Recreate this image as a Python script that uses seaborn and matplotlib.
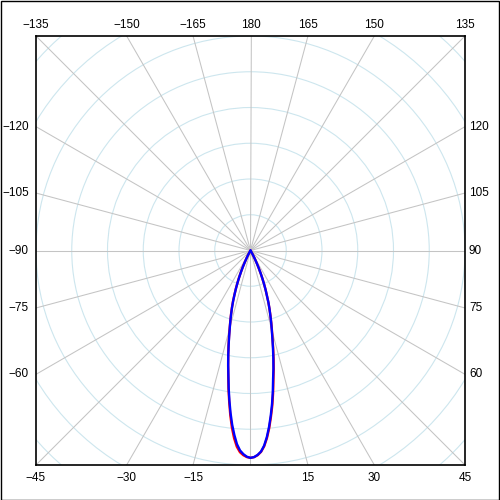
import numpy as np
import pandas as pd
import seaborn as sns
import matplotlib.pyplot as plt
from matplotlib.patches import Circle, Rectangle

# gamma angles (deg) and luminous intensity (cd)
gamma = list(range(0, 33))
red_right = [580, 578, 573, 564, 549, 527, 500, 469, 438, 404, 369, 340, 311, 282,
             255, 232, 211, 191, 172, 154, 134, 118, 101, 85, 70, 55, 42, 31, 21,
             13, 7, 3, 0]
red_left = [580, 578, 573, 565, 550, 527, 498, 464, 428, 393, 358, 328, 300, 273,
            248, 225, 205, 186, 168, 150, 131, 114, 97, 81, 65, 51, 37, 26, 17,
            10, 5, 2, 0]
blue_right = [580, 578, 572, 563, 547, 524, 496, 465, 433, 399, 364, 336, 307, 279,
              253, 230, 210, 190, 172, 154, 134, 118, 101, 85, 70, 55, 42, 31, 21,
              13, 7, 3, 0]
blue_left = [580, 577, 570, 560, 543, 518, 490, 458, 424, 390, 356, 327, 299, 272,
             247, 224, 204, 185, 167, 149, 130, 113, 96, 80, 64, 50, 36, 25, 16,
             9, 4, 1, 0]

ring_step = 100
lim = 600
bottom_labels = [-45, -30, -15, 15, 30, 45]
top_labels = [-135, -150, -165, 180, 165, 150, 135]
left_labels = [-120, -105, -90, -75, -60]
right_labels = [120, 105, 90, 75, 60]


def to_xy(ang, val):
    t = np.radians(ang)
    return val * np.sin(t), -val * np.cos(t)


def build(left, right):
    ang = [-g for g in gamma[::-1]] + gamma[1:]
    val = left[::-1] + right[1:]
    x, y = to_xy(np.array(ang), np.array(val, dtype=float))
    return pd.DataFrame({'x': x, 'y': y})


def lbl(a):
    return str(a).replace('-', '\u2212')


sns.set_style("white")
plt.rcParams['font.family'] = ['Liberation Sans', 'DejaVu Sans']
fig = plt.figure(figsize=(5, 5), dpi=100)
ax = fig.add_axes([0.072, 0.07, 0.858, 0.858])
ax.set_xlim(-lim, lim)
ax.set_ylim(-lim, lim)
ax.set_aspect('equal')

# grid rings and spokes
for r in range(ring_step, 900, ring_step):
    ax.add_patch(Circle((0, 0), r, fill=False, ec='#cde6ee', lw=0.8, zorder=1))
for a in range(0, 360, 15):
    x, y = to_xy(a, 1000)
    ax.plot([0, x], [0, y], color='#c4c4c4', lw=0.75, zorder=2)

sns.lineplot(data=build(red_left, red_right), x='x', y='y', sort=False,
             estimator=None, color='red', lw=1.7, ax=ax, zorder=3)
sns.lineplot(data=build(blue_left, blue_right), x='x', y='y', sort=False,
             estimator=None, color='blue', lw=1.7, ax=ax, zorder=4)

ax.set_xticks([])
ax.set_yticks([])
ax.set_xlabel('')
ax.set_ylabel('')
for s in ax.spines.values():
    s.set_color('black')
    s.set_linewidth(1.2)

fs = 8.5
for a in bottom_labels:
    ax.text(lim * np.tan(np.radians(a)), -lim - 36, lbl(a), color='black',
            ha='center', va='center', fontsize=fs, clip_on=False)
for a in top_labels:
    ax.text(-lim * np.tan(np.radians(a - 180)), lim + 32, lbl(a), color='black',
            ha='center', va='center', fontsize=fs, clip_on=False)
for a in left_labels:
    ax.text(-lim - 20, -lim / np.tan(np.radians(-a)), lbl(a), color='black',
            ha='right', va='center', fontsize=fs, clip_on=False)
for a in right_labels:
    ax.text(lim + 11, -lim / np.tan(np.radians(a)), lbl(a), color='black',
            ha='left', va='center', fontsize=fs, clip_on=False)

fig.patches.append(Rectangle((0.001, 0.001), 0.997, 0.997, transform=fig.transFigure,
                             fill=False, ec='black', lw=1))
fig.savefig('out.png', dpi=100)
